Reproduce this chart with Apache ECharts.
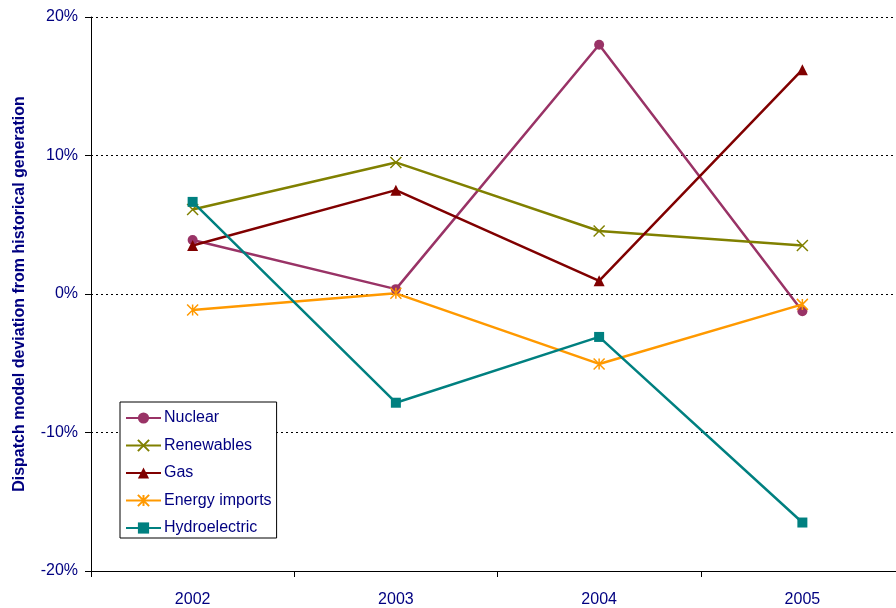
<!DOCTYPE html>
<html>
<head>
<meta charset="utf-8">
<script src="https://cdn.jsdelivr.net/npm/echarts@6/dist/echarts.min.js"></script>
<style>
  html, body { margin: 0; padding: 0; background: #fff; overflow: hidden; }
  /* 图表比窗口宽一点，最后一个分类的右边界在画面外 */
  #chart { width: 904px; height: 608px; }
</style>
</head>
<body>
<div id="chart"></div>
<script>
  // 数据
  var years = ['2002', '2003', '2004', '2005'];
  var nuclear = [3.9, 0.35, 18.0, -1.25];
  var renewables = [6.1, 9.5, 4.55, 3.5];
  var gas = [3.5, 7.5, 0.95, 16.2];
  var imports = [-1.15, 0.05, -5.05, -0.75];
  var hydro = [6.65, -7.85, -3.1, -16.5];

  var navy = '#000080';
  var xPath = 'path://M0,0L10,10M10,0L0,10';
  var starPath = 'path://M0,0L10,10M10,0L0,10M5,0L5,10';

  var mkSeries = function(name, data, color, symbol, size, stroke) {
    return {
      name: name,
      type: 'line',
      data: data,
      symbol: symbol,
      symbolSize: size,
      showAllSymbol: true,
      lineStyle: { color: color, width: 2.5 },
      itemStyle: {
        color: color,
        borderColor: color,
        borderWidth: stroke ? 1.5 : 0
      },
      emphasis: { disabled: true }
    };
  };

  var myChart = echarts.init(document.getElementById('chart'));
  var option = {
    animation: false,
    textStyle: { fontFamily: 'Liberation Sans, Arial, sans-serif' },
    grid: { left: 91, top: 17, right: 0, bottom: 37 },
    legend: {
      orient: 'vertical',
      left: 120,
      top: 402,
      padding: [8, 5, 2, 5],
      itemWidth: 35,
      itemHeight: 14,
      itemGap: 11.5,
      backgroundColor: '#fff',
      borderColor: '#000',
      borderWidth: 1,
      borderRadius: 0,
      textStyle: { color: navy, fontSize: 16, padding: [0, 0, 0, -2] },
      data: ['Nuclear', 'Renewables', 'Gas', 'Energy imports', 'Hydroelectric']
    },
    xAxis: {
      type: 'category',
      data: years,
      boundaryGap: true,
      axisLine: { onZero: false, lineStyle: { color: '#000', width: 1 } },
      axisTick: { show: true, length: 6, lineStyle: { color: '#000' } },
      axisLabel: { color: navy, fontSize: 16, margin: 21 }
    },
    yAxis: {
      type: 'value',
      min: -20,
      max: 20,
      interval: 10,
      name: 'Dispatch model deviation from historical generation',
      nameLocation: 'middle',
      nameGap: 63,
      nameTextStyle: { color: navy, fontSize: 16, fontWeight: 'bold' },
      axisLine: { show: true, lineStyle: { color: '#000', width: 1 } },
      axisTick: { show: true, length: 6, lineStyle: { color: '#000' } },
      axisLabel: { color: navy, fontSize: 16, margin: 13, padding: [3, 0, 0, 0], formatter: '{value}%' },
      splitLine: { show: true, lineStyle: { color: '#000', type: [2, 3], width: 1 } }
    },
    series: [
      mkSeries('Nuclear', nuclear, '#993366', 'circle', 10, false),
      mkSeries('Renewables', renewables, '#808000', xPath, 11, true),
      mkSeries('Gas', gas, '#800000', 'triangle', 11, false),
      mkSeries('Energy imports', imports, '#FF9900', starPath, 11, true),
      mkSeries('Hydroelectric', hydro, '#008080', 'rect', 10, false)
    ]
  };
  myChart.setOption(option);
</script>
</body>
</html>
